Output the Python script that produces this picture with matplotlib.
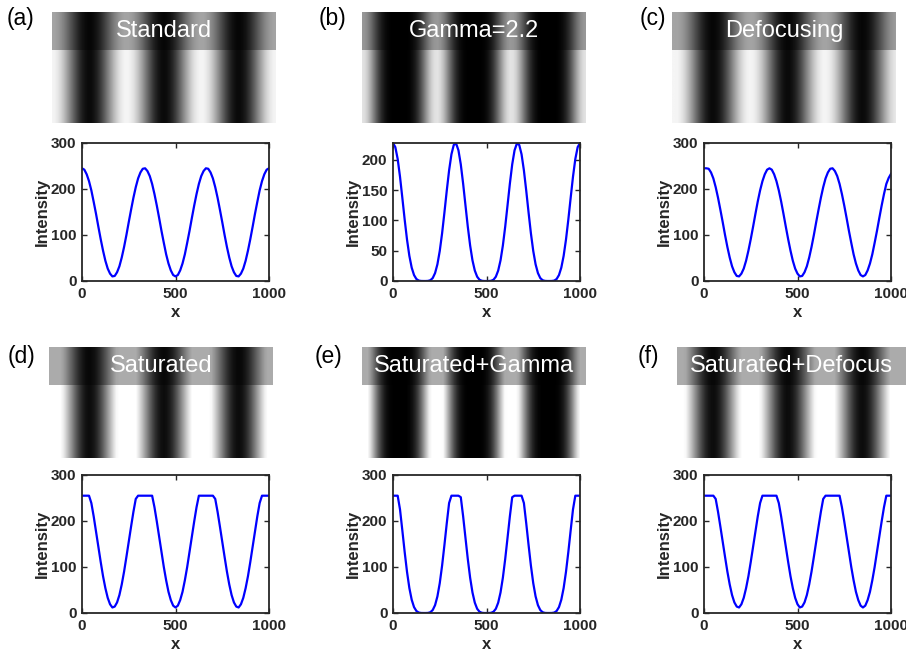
import numpy as np
import matplotlib.pyplot as plt
from matplotlib.patches import Rectangle

plt.rcParams['font.family'] = ['Liberation Sans', 'DejaVu Sans']

# profile readings along x (0..1000, every 12.5)
x = np.linspace(0, 1000, 81)

standard = [245, 242, 232, 217, 197, 172, 146, 118, 91, 66,
            44, 27, 16, 10, 11, 19, 32, 51, 74, 100,
            128, 155, 181, 204, 223, 236, 244, 245, 239, 228,
            211, 189, 164, 137, 109, 83, 58, 38, 23, 13,
            10,
            13, 23, 38, 58, 83, 109, 137, 164, 189, 211,
            228, 239, 245, 244, 236, 223, 204, 181, 155, 128,
            100, 74, 51, 32, 19, 11, 10, 16, 27, 44,
            66, 91, 118, 146, 172, 197, 217, 232, 242, 245]
gamma = [228, 221.1, 201.6, 172.2, 137.2, 101.2, 68.3, 41.5, 22.0, 9.8,
         3.3, 0.7, 0.1, 0.0, 0.0, 0.2, 1.3, 4.9, 13.1, 27.6,
         49.6, 78.7, 113.1, 149.2, 182.8, 209.3, 224.9, 227.2, 215.9, 192.7,
         160.9, 125.1, 89.7, 58.6, 34.1, 17.2, 7.1, 2.1, 0.4, 0.0,
         0.0,
         0.0, 0.4, 2.1, 7.1, 17.2, 34.1, 58.6, 89.7, 125.1, 160.9,
         192.7, 215.9, 227.2, 224.9, 209.3, 182.8, 149.2, 113.1, 78.7, 49.6,
         27.6, 13.1, 4.9, 1.3, 0.2, 0.0, 0.0, 0.1, 0.7, 3.3,
         9.8, 22.0, 41.5, 68.3, 101.2, 137.2, 172.2, 201.6, 221.1, 228]
defocus = [245, 245, 244, 236, 223, 204, 181, 155, 128, 100,
           74, 51, 32, 19, 11, 10, 16, 27, 44, 66,
           91, 118, 146, 173, 197, 217, 232, 242, 245, 242,
           232, 217, 197, 173, 146, 118, 91, 66, 44, 27,
           16, 10, 11, 19, 32, 51, 74, 100, 128, 155,
           181, 204, 223, 236, 244, 245, 239, 228, 211, 189,
           164, 137, 109, 83, 58, 38, 23, 13, 10, 13,
           23, 38, 58, 83, 109, 137, 164, 189, 211, 224,
           233]
saturated = [255, 255, 255, 255, 239, 210, 177, 144, 111, 80,
             54, 33, 19, 12, 14, 23, 39, 62, 90, 122,
             155, 188, 220, 248, 255, 255, 255, 255, 255, 255,
             255, 230, 199, 166, 133, 100, 71, 46, 28, 16,
             12,
             16, 28, 46, 71, 100, 133, 166, 199, 230, 255,
             255, 255, 255, 255, 255, 255, 248, 220, 188, 155,
             122, 90, 62, 39, 23, 14, 12, 19, 33, 54,
             80, 111, 144, 177, 210, 239, 255, 255, 255, 255]
sat_gamma = [255, 255, 255, 225.1, 179.3, 132.3, 89.3, 54.2, 28.8, 12.8,
             4.4, 1.0, 0.1, 0.0, 0.0, 0.2, 1.7, 6.5, 17.1, 36.1,
             64.8, 102.9, 147.8, 195.0, 239.0, 255, 255, 255, 255, 251.8,
             210.3, 163.5, 117.3, 76.6, 44.6, 22.4, 9.2, 2.8, 0.5, 0.0,
             0.0,
             0.0, 0.5, 2.8, 9.2, 22.4, 44.6, 76.6, 117.3, 163.5, 210.3,
             251.8, 255, 255, 255, 255, 239.0, 195.0, 147.8, 102.9, 64.8,
             36.1, 17.1, 6.5, 1.7, 0.2, 0.0, 0.0, 0.1, 1.0, 4.4,
             12.8, 28.8, 54.2, 89.3, 132.3, 179.3, 225.1, 255, 255, 255]
sat_defocus = [255, 255, 255, 255, 255, 248, 220, 188, 155, 122,
               90, 62, 39, 23, 14, 12, 19, 33, 54, 80,
               111, 144, 177, 210, 239, 255, 255, 255, 255, 255,
               255, 255, 239, 210, 177, 144, 111, 80, 54, 33,
               19, 12, 14, 23, 39, 62, 90, 122, 155, 188,
               220, 248, 255, 255, 255, 255, 255, 255, 255, 230,
               199, 166, 133, 100, 71, 46, 28, 16, 12, 16,
               28, 46, 71, 100, 133, 166, 199, 230, 255, 255,
               255]

tags = ['(a)', '(b)', '(c)', '(d)', '(e)', '(f)']
names = ['Standard', 'Gamma=2.2', 'Defocusing',
         'Saturated', 'Saturated+Gamma', 'Saturated+Defocus']
series = [standard, gamma, defocus, saturated, sat_gamma, sat_defocus]
ytops = [300, 228, 300, 300, 300, 300]

W, H = 906, 656
fig = plt.figure(figsize=(W / 100, H / 100), dpi=100)

img_lefts = [52, 362, 672]
img_tops = [12, 347]
ax_lefts = [82, 393, 704]
ax_tops = [143, 475]
tag_pos = [(7, 19), (319, 19), (640, 19), (8, 356), (315, 356), (638, 356)]
band_x = [(52, 276), (362, 586), (672, 896), (49, 273), (362, 586), (677, 906)]

for i in range(6):
    col, row = i % 3, i // 3
    vals = np.array(series[i], dtype=float)

    # fringe image
    il, it = img_lefts[col], img_tops[row]
    axi = fig.add_axes([il / W, 1 - (it + 111) / H, 224 / W, 111 / H])
    axi.imshow(np.tile(vals, (2, 1)), cmap='gray', vmin=0, vmax=255,
               aspect='auto', interpolation='bilinear',
               extent=(-6.25, 1006.25, 0, 1))
    axi.set_xlim(0, 1000)
    axi.set_ylim(0, 1)
    axi.axis('off')

    # label band
    bx0, bx1 = band_x[i]
    fig.add_artist(Rectangle((bx0 / W, 1 - (it + 37.5) / H), (bx1 - bx0) / W, 37.5 / H,
                             transform=fig.transFigure, facecolor='black',
                             alpha=0.33, edgecolor='none'))
    fig.text((bx0 + bx1) / 2 / W, 1 - (it + 19) / H, names[i], color='white',
             fontsize=17, ha='center', va='center')

    # profile
    al, at = ax_lefts[col], ax_tops[row]
    ax = fig.add_axes([al / W, 1 - (at + 138) / H, 187 / W, 138 / H])
    ax.plot(x, vals, color=(0, 0, 1), lw=1.6)
    ax.set_xlim(0, 1000)
    ax.set_ylim(0, ytops[i])
    ax.set_xticks([0, 500, 1000])
    if ytops[i] == 300:
        ax.set_yticks([0, 100, 200, 300])
    else:
        ax.set_yticks([0, 50, 100, 150, 200])
    ax.tick_params(direction='in', top=True, right=True, length=3.5, width=1,
                   labelsize=11, colors='#262626', pad=4)
    for lab in ax.get_xticklabels() + ax.get_yticklabels():
        lab.set_fontweight('bold')
    for sp in ax.spines.values():
        sp.set_linewidth(1.3)
        sp.set_color('#262626')
    ax.set_xlabel('x', fontweight='bold', fontsize=12, color='#262626', labelpad=3)
    ax.set_ylabel('Intensity', fontweight='bold', fontsize=12, color='#262626', labelpad=1)

    tx, ty = tag_pos[i]
    fig.text(tx / W, 1 - ty / H, tags[i], fontsize=16.5, ha='left', va='center')

fig.savefig('out.png', dpi=100)
